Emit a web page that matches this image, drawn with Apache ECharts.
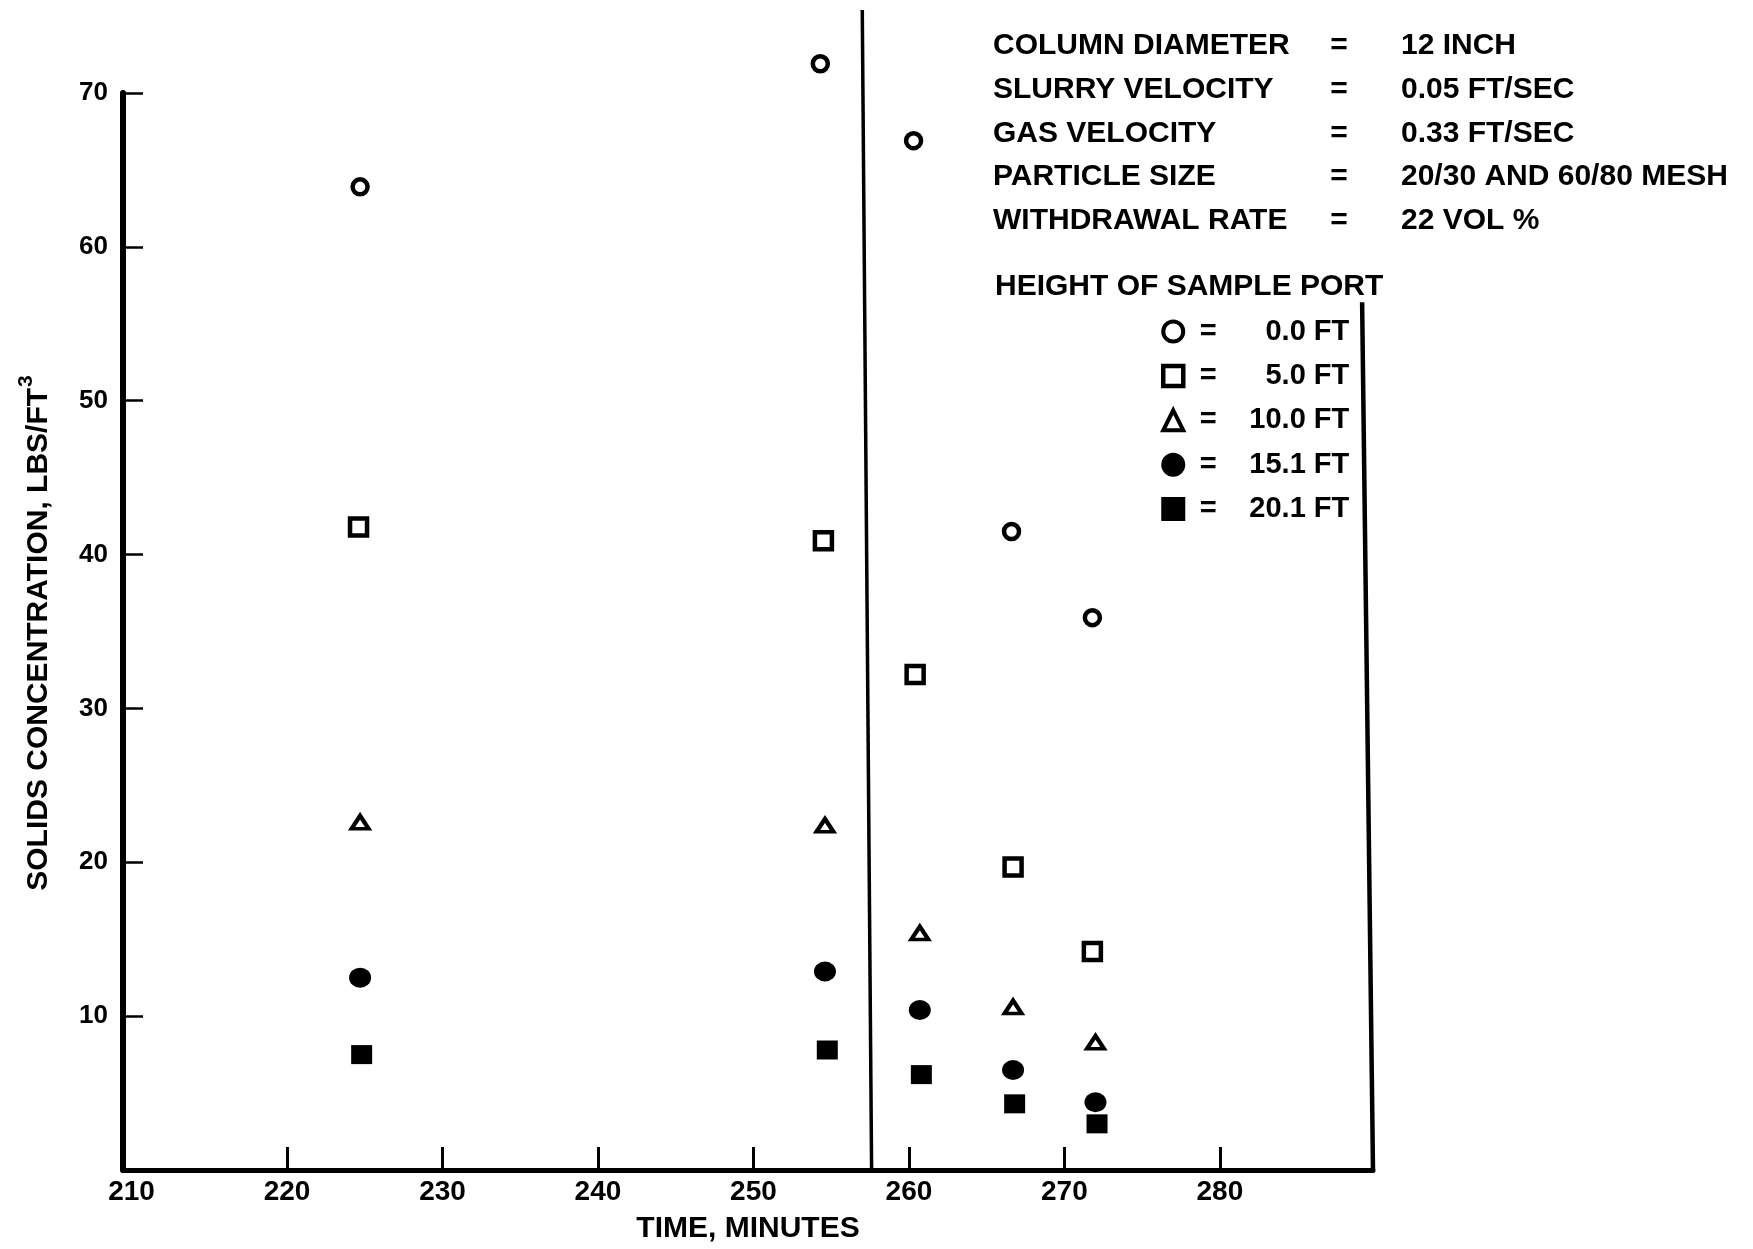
<!DOCTYPE html>
<html><head><meta charset="utf-8">
<script src="https://cdn.jsdelivr.net/npm/echarts@6/dist/echarts.min.js"></script>
<style>html,body{margin:0;padding:0;background:#fff}#c{width:1753px;height:1249px}</style>
</head><body><div id="c"></div>
<script>
// ---- data ----
const seriesNames = ['0.0 FT', '5.0 FT', '10.0 FT', '15.1 FT', '20.1 FT'];
const time_00 = [224.7, 254.3, 260.3, 266.6, 271.8];
const conc_00 = [63.9, 71.9, 66.9, 41.5, 35.9];
const time_05 = [224.6, 254.5, 260.4, 266.7, 271.8];
const conc_05 = [41.8, 40.9, 32.2, 19.7, 14.2];
const time_10 = [224.7, 254.6, 260.7, 266.7, 272.0];
const conc_10 = [22.6, 22.4, 15.4, 10.6, 8.3];
const time_15 = [224.7, 254.6, 260.7, 266.7, 272.0];
const conc_15 = [12.5, 12.9, 10.4, 6.5, 4.4];
const time_20 = [224.8, 254.75, 260.8, 266.8, 272.1];
const conc_20 = [7.5, 7.8, 6.2, 4.3, 3.0];

const xTickValues = [220, 230, 240, 250, 260, 270, 280];
const xLabelValues = [210, 220, 230, 240, 250, 260, 270, 280];
const yTickValues = [10, 20, 30, 40, 50, 60, 70];

const dividerLine = [[257.6, 0], [257.0, 75.4]];
const frameRightLine = [[289.85, 0], [289.15, 56.4]];

const infoLabels = ['COLUMN DIAMETER', 'SLURRY VELOCITY', 'GAS VELOCITY', 'PARTICLE SIZE', 'WITHDRAWAL RATE'];
const infoValues = ['12 INCH', '0.05 FT/SEC', '0.33 FT/SEC', '20/30 AND 60/80 MESH', '22 VOL %'];
const legendTitle = 'HEIGHT OF SAMPLE PORT';
const xAxisTitle = 'TIME, MINUTES';
const yAxisTitle = 'SOLIDS CONCENTRATION, LBS/FT';
const yAxisTitleSup = '3';

// ---- chart ----
const FONT = '"Liberation Sans", Arial, sans-serif';
const zip = (xs, ys) => xs.map((x, i) => [x, ys[i]]);

const chart = echarts.init(document.getElementById('c'), null, {renderer: 'canvas'});

const openStyle = (bw) => ({color: '#fff', borderColor: '#000', borderWidth: bw, opacity: 1});
const solidStyle = {color: '#000', borderColor: '#000', borderWidth: 0, opacity: 1};

const scatterDefs = [
  {name: seriesNames[0], data: zip(time_00, conc_00), symbol: 'circle', symbolSize: 15, itemStyle: openStyle(4.5), legendBw: 4},
  {name: seriesNames[1], data: zip(time_05, conc_05), symbol: 'rect', symbolSize: 17, itemStyle: openStyle(4.5), legendBw: 4.5},
  {name: seriesNames[2], data: zip(time_10, conc_10), symbol: 'triangle', symbolSize: [17, 13], itemStyle: openStyle(4), legendBw: 4},
  {name: seriesNames[3], data: zip(time_15, conc_15), symbol: 'circle', symbolSize: [22, 20], itemStyle: solidStyle, legendBw: 4},
  {name: seriesNames[4], data: zip(time_20, conc_20), symbol: 'rect', symbolSize: [21, 19], itemStyle: solidStyle, legendBw: 4}
];

const graphics = [];
const rowY0 = 46, rowGap = 43.7;
const infoFont = 'bold 30px ' + FONT;
infoLabels.forEach((t, i) => {
  const y = rowY0 + i * rowGap;
  graphics.push({type: 'text', x: 993, y: y, style: {text: t, fill: '#000', font: infoFont, textAlign: 'left', textVerticalAlign: 'middle'}});
  graphics.push({type: 'text', x: 1339, y: y, style: {text: '=', fill: '#000', font: infoFont, textAlign: 'center', textVerticalAlign: 'middle'}});
  graphics.push({type: 'text', x: 1401, y: y, style: {text: infoValues[i], fill: '#000', font: infoFont, textAlign: 'left', textVerticalAlign: 'middle'}});
});
graphics.push({type: 'text', x: 995, y: 287, style: {text: legendTitle, fill: '#000', font: infoFont, textAlign: 'left', textVerticalAlign: 'middle'}});
graphics.push({
  type: 'text', x: 35, y: 633, rotation: Math.PI / 2,
  style: {
    text: '{t|' + yAxisTitle + '}{s|' + yAxisTitleSup + '}', fill: '#000',
    textAlign: 'center', textVerticalAlign: 'middle',
    rich: {
      t: {fontSize: 30, fontWeight: 'bold', fontFamily: FONT, lineHeight: 38, verticalAlign: 'bottom', fill: '#000'},
      s: {fontSize: 21, fontWeight: 'bold', fontFamily: FONT, lineHeight: 21, verticalAlign: 'top', fill: '#000', padding: [0, 0, 0, 1]}
    }
  }
});

const option = {
  backgroundColor: '#fff',
  animation: false,
  textStyle: {fontFamily: FONT},
  grid: {left: 123, right: 380, top: 93, bottom: 79, containLabel: false},
  xAxis: {
    type: 'value', min: 209.45, max: 289.85,
    name: xAxisTitle, nameLocation: 'middle', nameGap: 44,
    nameTextStyle: {fontSize: 30, fontWeight: 'bold', color: '#000', fontFamily: FONT},
    axisLine: {show: true, lineStyle: {color: '#000', width: 5}},
    axisTick: {show: true, inside: true, length: 23, lineStyle: {color: '#000', width: 3}, customValues: xTickValues},
    axisLabel: {show: true, margin: 8, fontSize: 28, fontWeight: 'bold', color: '#000', fontFamily: FONT, customValues: xLabelValues},
    splitLine: {show: false}
  },
  yAxis: {
    type: 'value', min: 0, max: 70,
    axisLine: {show: true, lineStyle: {color: '#000', width: 6}},
    axisTick: {show: true, inside: true, length: 20, lineStyle: {color: '#000', width: 2.5}, customValues: yTickValues},
    axisLabel: {show: true, margin: 15, fontSize: 26, fontWeight: 'bold', color: '#000', fontFamily: FONT, customValues: yTickValues},
    splitLine: {show: false}
  },
  legend: {
    data: scatterDefs.map(d => ({name: d.name, itemStyle: {borderWidth: d.legendBw}})),
    orient: 'vertical', left: 1161, top: 317, padding: 0,
    itemWidth: 20, itemHeight: 20, itemGap: 15.4,
    formatter: n => '{eq|=}{v|' + n + '}',
    textStyle: {
      color: '#000', fontFamily: FONT, fontWeight: 'bold', fontSize: 29,
      rich: {
        eq: {width: 40, align: 'center', fontSize: 29, lineHeight: 30, fontWeight: 'bold', fontFamily: FONT, color: '#000'},
        v: {width: 121, align: 'right', fontSize: 29, lineHeight: 30, fontWeight: 'bold', fontFamily: FONT, color: '#000'}
      }
    },
    selectedMode: false
  },
  graphic: graphics,
  series: [
    ...scatterDefs.map(d => ({
      type: 'scatter', name: d.name, data: d.data, symbol: d.symbol, symbolSize: d.symbolSize,
      itemStyle: d.itemStyle, clip: false, silent: true
    })),
    {type: 'line', name: 'divider', data: dividerLine, symbol: 'none', clip: false, silent: true,
     lineStyle: {color: '#000', width: 3.5}},
    {type: 'line', name: 'frame', data: frameRightLine, symbol: 'none', clip: false, silent: true,
     lineStyle: {color: '#000', width: 4.5}}
  ]
};
chart.setOption(option);
</script>
</body></html>
